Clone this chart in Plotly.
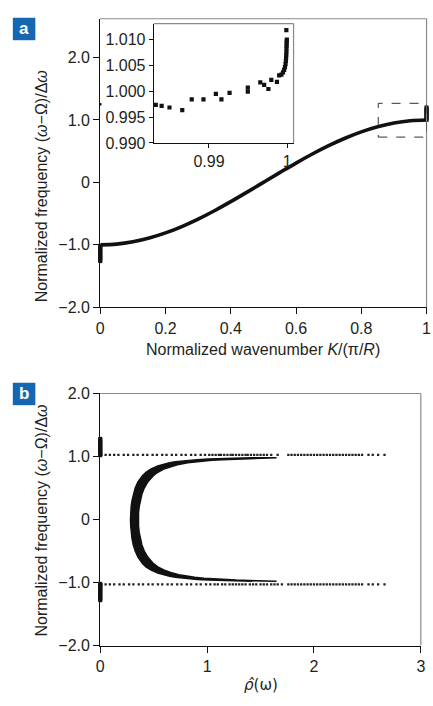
import plotly.graph_objects as go

W, H = 433, 706
FONT = "Liberation Sans, Arial, sans-serif"
TXT = "#231f20"
INK = "#111111"
BLUE = "#1467b0"

# ---------------- Panel a: dispersion curve ----------------
k_vals = [0.0, 0.05, 0.10, 0.15, 0.20, 0.25, 0.30, 0.35, 0.40, 0.45, 0.50,
          0.55, 0.60, 0.65, 0.70, 0.75, 0.80, 0.85, 0.90, 0.95, 1.0]
freq_a = [-1.000, -0.988, -0.951, -0.891, -0.809, -0.707, -0.588, -0.454, -0.309, -0.156, 0.000,
          0.156, 0.309, 0.454, 0.588, 0.707, 0.809, 0.891, 0.951, 0.988, 1.000]

# vertical clusters of points at the band edges
edge_a_left_y = [-1.02, -1.04, -1.06, -1.08, -1.10, -1.12, -1.14, -1.16, -1.18, -1.20, -1.22, -1.24, -1.26]
edge_a_right_y = [1.00, 1.02, 1.04, 1.06, 1.08, 1.10, 1.12, 1.14, 1.16, 1.18, 1.20]
stray_a_y = [1.25]

# inset (zoom near K = 1)
inset_k = [0.98321, 0.98396, 0.98496, 0.98659, 0.98780, 0.98930, 0.99088, 0.99159, 0.99263,
           0.99496, 0.99496, 0.99655, 0.99705, 0.99759, 0.99796, 0.99868, 0.99896, 0.99925,
           0.99945, 0.99960, 0.99970, 0.99978, 0.99982, 0.99985, 0.99987, 0.99989, 0.99990,
           0.99991, 0.99992, 0.99993, 0.99994, 0.99988]
inset_f = [0.99734, 0.99715, 0.99683, 0.99632, 0.99839, 0.99839, 0.99946, 0.99839, 0.99965,
           1.00065, 0.99990, 1.00167, 1.00121, 1.00040, 1.00215, 1.00178, 1.00304, 1.00317,
           1.00360, 1.00410, 1.00460, 1.00520, 1.00580, 1.00640, 1.00700, 1.00760, 1.00820,
           1.00870, 1.00920, 1.00960, 1.00990, 1.01175]

# ---------------- Panel b: density of states ----------------
band_y = [-0.98, -0.975, -0.97, -0.96, -0.95, -0.94, -0.93, -0.915, -0.90, -0.875, -0.85, -0.80,
          -0.75, -0.70, -0.60, -0.50, -0.40, -0.30, -0.20, -0.10, 0.0,
          0.10, 0.20, 0.30, 0.40, 0.50, 0.60, 0.70, 0.75, 0.80, 0.85, 0.875, 0.90,
          0.915, 0.93, 0.94, 0.95, 0.96, 0.97, 0.975, 0.98]
band_left = [1.420, 1.275, 1.165, 1.012, 0.907, 0.830, 0.771, 0.702, 0.650, 0.585, 0.538, 0.472,
             0.428, 0.397, 0.354, 0.327, 0.309, 0.297, 0.289, 0.285, 0.283,
             0.285, 0.289, 0.297, 0.309, 0.327, 0.354, 0.397, 0.428, 0.472, 0.538, 0.585, 0.650,
             0.702, 0.771, 0.830, 0.907, 1.012, 1.165, 1.275, 1.420]
band_right = [1.650, 1.605, 1.466, 1.273, 1.142, 1.045, 0.970, 0.884, 0.818, 0.736, 0.677, 0.594,
              0.539, 0.499, 0.446, 0.412, 0.389, 0.374, 0.364, 0.358, 0.357,
              0.358, 0.364, 0.374, 0.389, 0.412, 0.446, 0.499, 0.539, 0.594, 0.677, 0.736, 0.818,
              0.884, 0.970, 1.045, 1.142, 1.273, 1.466, 1.605, 1.650]

dots_upper_x = [0.01, 0.05, 0.09, 0.13, 0.17, 0.22, 0.26, 0.31, 0.35, 0.40, 0.44, 0.49, 0.53,
                0.58, 0.62, 0.67, 0.71, 0.76, 0.80, 0.85, 0.89, 0.94, 0.98, 1.02, 1.05, 1.08,
                1.11, 1.13, 1.16, 1.19, 1.22, 1.24, 1.27, 1.30, 1.33, 1.36, 1.38, 1.41, 1.44,
                1.47, 1.50, 1.53, 1.56, 1.60, 1.66, 1.76, 1.79, 1.82, 1.85, 1.88, 1.91, 1.94,
                1.97, 2.00, 2.03, 2.06, 2.09, 2.12, 2.15, 2.18, 2.21, 2.24, 2.27, 2.30, 2.33,
                2.36, 2.39, 2.42, 2.45, 2.51, 2.55, 2.60, 2.66]
dots_lower_x = [0.01, 0.05, 0.09, 0.13, 0.18, 0.22, 0.27, 0.31, 0.36, 0.40, 0.45, 0.49, 0.54,
                0.58, 0.63, 0.67, 0.72, 0.76, 0.81, 0.85, 0.90, 0.94, 0.99, 1.03, 1.07, 1.10,
                1.14, 1.17, 1.21, 1.24, 1.27, 1.30, 1.33, 1.36, 1.40, 1.43, 1.46, 1.50, 1.53,
                1.56, 1.60, 1.63, 1.66, 1.70, 1.76, 1.79, 1.82, 1.85, 1.88, 1.91, 1.94,
                1.97, 2.00, 2.03, 2.06, 2.09, 2.12, 2.15, 2.18, 2.21, 2.24, 2.27, 2.30, 2.33,
                2.36, 2.39, 2.42, 2.45, 2.51, 2.55, 2.60, 2.66]
upper_level = 1.025
lower_level = -1.03
edge_b_upper_y = [1.02, 1.04, 1.06, 1.08, 1.10, 1.12, 1.14, 1.16, 1.18, 1.20, 1.22, 1.24, 1.26, 1.28]
edge_b_lower_y = [-1.02, -1.04, -1.06, -1.08, -1.10, -1.12, -1.14, -1.16, -1.18, -1.20, -1.22, -1.24, -1.26, -1.28]

# tick labels
ya_ticks = [-2, -1, 0, 1, 2]
ya_text = ["\u22122.0", "\u22121.0", "0", "1.0", "2.0"]
xa_ticks = [0, 0.2, 0.4, 0.6, 0.8, 1.0]
xa_text = ["0", "0.2", "0.4", "0.6", "0.8", "1"]
xb_ticks = [0, 1, 2, 3]
xb_text = ["0", "1", "2", "3"]
xi_ticks = [0.99, 1.0]
xi_text = ["0.99", "1"]
yi_ticks = [0.990, 0.995, 1.000, 1.005, 1.010]
yi_text = ["0.990", "0.995", "1.000", "1.005", "1.010"]

# ---------------- geometry (pixels -> paper) ----------------
def px(x):
    return x / W

def py(y):
    return 1 - y / H

A_L, A_R, A_T, A_B = 98.3, 431.5, 11.0, 306.7
B_L, B_R, B_T, B_B = 98.3, 425.7, 395.0, 653.3
I_L, I_R, I_T, I_B = 153.0, 295.7, 16.0, 138.3

fig = go.Figure()

# panel a
fig.add_trace(go.Scatter(x=k_vals, y=freq_a, mode="lines", line=dict(color=INK, width=3.6, shape="spline"),
                         xaxis="x", yaxis="y", showlegend=False, hoverinfo="skip"))
fig.add_trace(go.Scatter(x=[0] * len(edge_a_left_y), y=edge_a_left_y, mode="markers",
                         marker=dict(symbol="square", size=4, color=INK), cliponaxis=False,
                         xaxis="x", yaxis="y", showlegend=False))
fig.add_trace(go.Scatter(x=[1] * len(edge_a_right_y), y=edge_a_right_y, mode="markers",
                         marker=dict(symbol="square", size=4, color=INK), cliponaxis=False,
                         xaxis="x", yaxis="y", showlegend=False))
fig.add_trace(go.Scatter(x=[0], y=stray_a_y, mode="markers",
                         marker=dict(symbol="square", size=2.5, color=INK), cliponaxis=False,
                         xaxis="x", yaxis="y", showlegend=False))

# inset
fig.add_trace(go.Scatter(x=inset_k, y=inset_f, mode="markers",
                         marker=dict(symbol="square", size=4.2, color=INK),
                         xaxis="x3", yaxis="y3", showlegend=False))

# panel b
poly_x = band_right + band_left[::-1]
poly_y = band_y + band_y[::-1]
fig.add_trace(go.Scatter(x=poly_x, y=poly_y, mode="lines", fill="toself", fillcolor=INK,
                         line=dict(color=INK, width=1.5), xaxis="x2", yaxis="y2", showlegend=False))
fig.add_trace(go.Scatter(x=dots_upper_x, y=[upper_level] * len(dots_upper_x), mode="markers",
                         marker=dict(symbol="square", size=2.3, color="#222"),
                         xaxis="x2", yaxis="y2", showlegend=False))
fig.add_trace(go.Scatter(x=dots_lower_x, y=[lower_level] * len(dots_lower_x), mode="markers",
                         marker=dict(symbol="square", size=2.3, color="#222"),
                         xaxis="x2", yaxis="y2", showlegend=False))
fig.add_trace(go.Scatter(x=[0] * len(edge_b_upper_y), y=edge_b_upper_y, mode="markers",
                         marker=dict(symbol="square", size=4, color=INK), cliponaxis=False,
                         xaxis="x2", yaxis="y2", showlegend=False))
fig.add_trace(go.Scatter(x=[0] * len(edge_b_lower_y), y=edge_b_lower_y, mode="markers",
                         marker=dict(symbol="square", size=4, color=INK), cliponaxis=False,
                         xaxis="x2", yaxis="y2", showlegend=False))

tickfont = dict(family=FONT, size=16, color=TXT)
axcommon = dict(showgrid=False, zeroline=False, showline=True, linecolor="#111", linewidth=1.2,
                ticks="outside", ticklen=6, tickwidth=1, tickcolor="#111", tickfont=tickfont,
                tickmode="array")

fig.update_layout(
    width=W, height=H, margin=dict(l=0, r=0, t=0, b=0),
    paper_bgcolor="white", plot_bgcolor="white",
    xaxis=dict(domain=[px(A_L), px(A_R)], range=[0, 1], anchor="y", tickvals=xa_ticks, ticktext=xa_text, **axcommon),
    yaxis=dict(domain=[py(A_B), py(A_T)], range=[-2, 2.62], anchor="x", tickvals=ya_ticks, ticktext=ya_text, **axcommon),
    xaxis2=dict(domain=[px(B_L), px(B_R)], range=[0, 3], anchor="y2", tickvals=xb_ticks, ticktext=xb_text, **axcommon),
    yaxis2=dict(domain=[py(B_B), py(B_T)], range=[-2, 2], anchor="x2", tickvals=ya_ticks, ticktext=ya_text, **axcommon),
    xaxis3=dict(domain=[px(I_L), px(I_R)], range=[0.98296, 1.0008], anchor="y3", tickvals=xi_ticks, ticktext=xi_text,
                **{**axcommon, "ticklen": 4}),
    yaxis3=dict(domain=[py(I_B), py(I_T)], range=[0.990, 1.0130], anchor="x3", tickvals=yi_ticks, ticktext=yi_text,
                **{**axcommon, "ticklen": 4}),
)

shapes = []
# inset white background
shapes.append(dict(type="rect", xref="paper", yref="paper", x0=px(I_L), x1=px(I_R), y0=py(I_B), y1=py(I_T),
                   fillcolor="white", line=dict(width=0), layer="below"))
# gray top/right frames
for (l, r, t, b) in [(A_L, A_R, A_T, A_B), (B_L, B_R, B_T, B_B), (I_L, I_R, I_T, I_B)]:
    shapes.append(dict(type="line", xref="paper", yref="paper", x0=px(l), x1=px(r), y0=py(t), y1=py(t),
                       line=dict(color="#8a8a8a", width=1.2)))
    shapes.append(dict(type="line", xref="paper", yref="paper", x0=px(r), x1=px(r), y0=py(t), y1=py(b),
                       line=dict(color="#8a8a8a", width=1.2)))
# dashed zoom box
shapes.append(dict(type="rect", xref="x", yref="y", x0=0.852, x1=1.0, y0=0.725, y1=1.266,
                   line=dict(color="#333", width=1, dash="dash")))
# label boxes
shapes.append(dict(type="rect", xref="paper", yref="paper", x0=px(9), x1=px(32), y0=py(33), y1=py(10),
                   fillcolor=BLUE, line=dict(width=0)))
shapes.append(dict(type="rect", xref="paper", yref="paper", x0=px(9), x1=px(32), y0=py(407), y1=py(384),
                   fillcolor=BLUE, line=dict(width=0)))
fig.update_layout(shapes=shapes)

tfont = dict(family=FONT, size=16, color=TXT)
ann = [
    dict(text="<b>a</b>", x=px(20.5), y=py(21.5), font=dict(family=FONT, size=17, color="white")),
    dict(text="<b>b</b>", x=px(20.5), y=py(395.5), font=dict(family=FONT, size=17, color="white")),
    dict(text="Normalized wavenumber <i>K</i>/(\u03c0/<i>R</i>)", x=px(264.5), y=py(350), font=tfont),
    dict(text="<i>\u03c1\u0302</i>(\u03c9)", x=px(262), y=py(694),
         font=dict(family="DejaVu Sans, Liberation Sans, sans-serif", size=15, color=TXT)),
    dict(text="Normalized frequency (<i>\u03c9</i>\u2212\u03a9)/\u0394<i>\u03c9</i>", x=px(38), y=py(182.5),
         textangle=-90, font=tfont),
    dict(text="Normalized frequency (<i>\u03c9</i>\u2212\u03a9)/\u0394<i>\u03c9</i>", x=px(38), y=py(525),
         textangle=-90, font=tfont),
]
for a in ann:
    a.update(xref="paper", yref="paper", showarrow=False, xanchor="center", yanchor="middle")
fig.update_layout(annotations=ann)

fig.write_html("out.html")
